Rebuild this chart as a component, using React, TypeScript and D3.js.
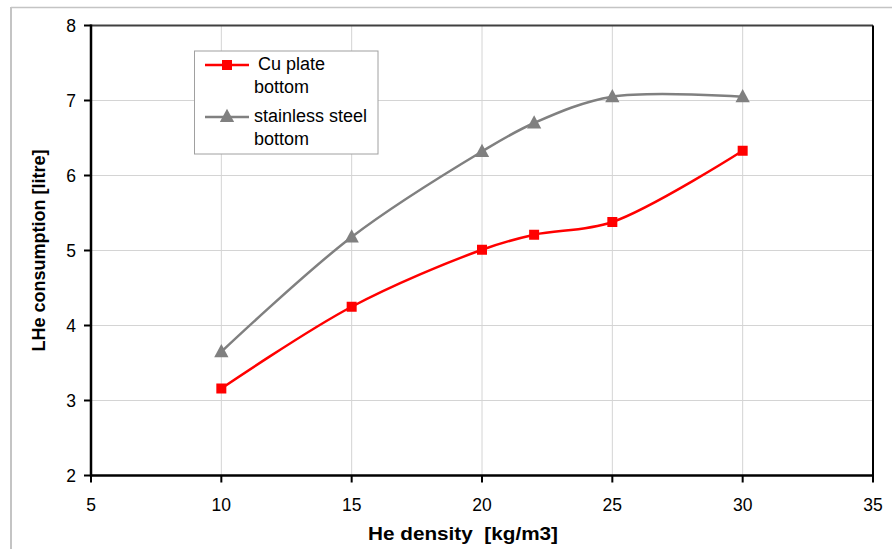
import React from "react";
import * as d3 from "d3";

// He gas density at which each measurement was taken [kg/m3]
const heDensity = [10, 15, 20, 22, 25, 30];
// LHe consumption [litre] for each bottom type
const cuPlate = [3.16, 4.25, 5.01, 5.21, 5.38, 6.33];
const stainlessSteel = [3.65, 5.18, 6.32, 6.70, 7.05, 7.05];

const xTicks = [5, 10, 15, 20, 25, 30, 35];
const yTicks = [2, 3, 4, 5, 6, 7, 8];

const seriesNames = [["Cu plate", "bottom"], ["stainless steel", "bottom"]];

const W = 892;
const H = 549;
const left = 91;
const right = 873;
const top = 25.5;
const bottom = 475.5;
const font = "'Liberation Sans', Arial, sans-serif";

export default function App() {
  const x = d3.scaleLinear().domain([5, 35]).range([left, right]);
  const y = d3.scaleLinear().domain([2, 8]).range([bottom, top]);

  const line = d3
    .line<[number, number]>()
    .x((d) => x(d[0]))
    .y((d) => y(d[1]))
    .curve(d3.curveCatmullRom.alpha(0.5));

  const cuPts = heDensity.map((v, i) => [v, cuPlate[i]] as [number, number]);
  const ssPts = heDensity.map((v, i) => [v, stainlessSteel[i]] as [number, number]);

  const tri = (cx: number, cy: number, s: number) =>
    `M${cx},${cy - s * 0.6}L${cx + s * 0.55},${cy + s * 0.42}L${cx - s * 0.55},${cy + s * 0.42}Z`;

  return (
    <svg
      width={W}
      height={H}
      style={{ position: "absolute", left: 0, top: 0, display: "block", background: "#fff" }}
      fontFamily={font}
    >
      {/* outer frame */}
      <line x1={11} y1={7.5} x2={W} y2={7.5} stroke="#c4c4c4" strokeWidth={1.5} />
      <line x1={11} y1={7} x2={11} y2={H} stroke="#c4c4c4" strokeWidth={2} />

      {/* grid */}
      {xTicks.slice(1, -1).map((t) => (
        <line key={"gx" + t} x1={x(t)} x2={x(t)} y1={top} y2={bottom} stroke="#d4d4d4" strokeWidth={1} />
      ))}
      {yTicks.slice(1, -1).map((t) => (
        <line key={"gy" + t} x1={left} x2={right} y1={y(t)} y2={y(t)} stroke="#d4d4d4" strokeWidth={1} />
      ))}

      {/* plot frame */}
      <line x1={left} x2={right} y1={top} y2={top} stroke="#404040" strokeWidth={2} />
      <line x1={right} x2={right} y1={top} y2={bottom} stroke="#000" strokeWidth={2} />
      <line x1={left} x2={right + 1} y1={bottom} y2={bottom} stroke="#000" strokeWidth={2.5} />
      <line x1={left} x2={left} y1={top - 1} y2={bottom + 1} stroke="#000" strokeWidth={2.5} />

      {/* ticks & labels */}
      {yTicks.map((t) => (
        <g key={"ty" + t}>
          <line x1={left - 7} x2={left} y1={y(t)} y2={y(t)} stroke="#000" strokeWidth={2} />
          <text x={left - 15} y={y(t) + 6} textAnchor="end" fontSize={17.5} fill="#000">
            {t}
          </text>
        </g>
      ))}
      {xTicks.map((t) => (
        <g key={"tx" + t}>
          <line x1={x(t)} x2={x(t)} y1={bottom} y2={bottom + 7} stroke="#000" strokeWidth={2} />
          <text x={x(t)} y={511} textAnchor="middle" fontSize={17.5} fill="#000">
            {t}
          </text>
        </g>
      ))}

      {/* axis titles */}
      <text
        x={463}
        y={540}
        textAnchor="middle"
        fontSize={19}
        fontWeight="bold"
        fill="#000"
        xmlSpace="preserve"
        textLength={190}
        lengthAdjust="spacingAndGlyphs"
      >
        {"He density  [kg/m3]"}
      </text>
      <text
        transform={`translate(45,${(top + bottom) / 2}) rotate(-90)`}
        textAnchor="middle"
        fontSize={19}
        fontWeight="bold"
        fill="#000"
        textLength={202}
        lengthAdjust="spacingAndGlyphs"
      >
        LHe consumption [litre]
      </text>

      {/* series */}
      <path d={line(ssPts) || ""} fill="none" stroke="#808080" strokeWidth={2.5} />
      <path d={line(cuPts) || ""} fill="none" stroke="#ff0000" strokeWidth={2.5} />
      {ssPts.map((p, i) => (
        <path key={"ss" + i} d={tri(x(p[0]), y(p[1]), 13)} fill="#808080" />
      ))}
      {cuPts.map((p, i) => (
        <rect key={"cu" + i} x={x(p[0]) - 5} y={y(p[1]) - 5} width={10} height={10} fill="#ff0000" />
      ))}

      {/* legend */}
      <rect x={194.5} y={51} width={183.5} height={103} fill="#fff" stroke="#a0a0a0" strokeWidth={1} />
      <line x1={205} x2={249} y1={65} y2={65} stroke="#ff0000" strokeWidth={2.5} />
      <rect x={222} y={60} width={10} height={10} fill="#ff0000" />
      <text fontSize={18} fill="#000">
        <tspan x={258} y={70}>{seriesNames[0][0]}</tspan>
        <tspan x={254} y={93}>{seriesNames[0][1]}</tspan>
      </text>
      <line x1={205} x2={249} y1={117} y2={117} stroke="#808080" strokeWidth={2.5} />
      <path d={tri(227, 116.5, 13)} fill="#808080" />
      <text fontSize={18} fill="#000">
        <tspan x={254} y={122}>{seriesNames[1][0]}</tspan>
        <tspan x={254} y={145}>{seriesNames[1][1]}</tspan>
      </text>
    </svg>
  );
}
